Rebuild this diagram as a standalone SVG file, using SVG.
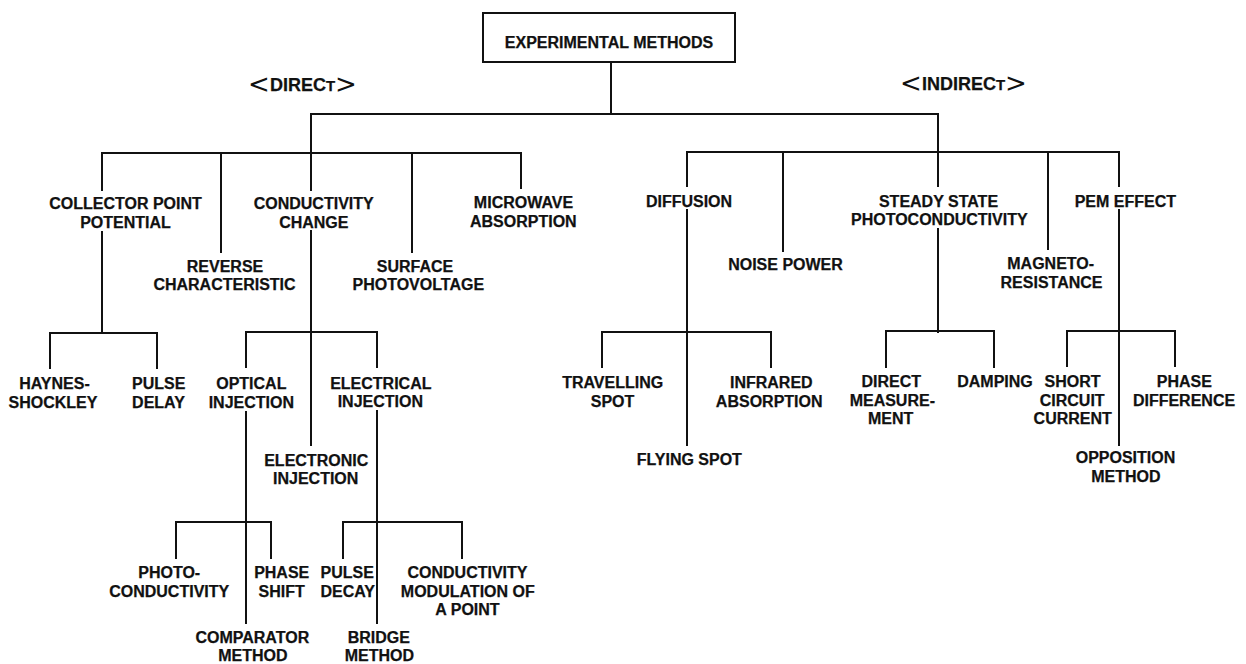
<svg xmlns="http://www.w3.org/2000/svg" width="1246" height="664" viewBox="0 0 1246 664">
  <style>
    .bg { fill: #ffffff; }
    .ln { fill: none; stroke: #111111; stroke-width: 2; stroke-linecap: square; }
    .box { fill: #ffffff; stroke: #111111; stroke-width: 2; }
    .t { font-family: "Liberation Sans", Arial, Helvetica, sans-serif; font-weight: bold; font-size: 16px; text-anchor: middle; fill: #111111; stroke: #111111; stroke-width: 0.25; }
    .h { font-family: "Liberation Sans", Arial, Helvetica, sans-serif; font-weight: bold; font-size: 18px; fill: #111111; stroke: #111111; stroke-width: 0.25; }
    .sc { font-size: 15px; }
    .br { font-family: "DejaVu Sans", sans-serif; font-weight: normal; font-size: 26px; text-anchor: middle; fill: #111111; }
  </style>

  <rect class="bg" x="0" y="0" width="1246" height="664"/>

  <!-- tree connectors -->
  <g id="connectors">
    <!-- root to the two main branches -->
    <path class="ln" d="M611 62 V114"/>
    <path class="ln" d="M311 190 V114 H938 V186"/>
    <!-- direct branch bar -->
    <path class="ln" d="M102 190 V153 H521 V188"/>
    <path class="ln" d="M221 153 V252"/>
    <path class="ln" d="M412 153 V252"/>
    <!-- indirect branch bar -->
    <path class="ln" d="M687 186 V152 H1119 V186"/>
    <path class="ln" d="M783 152 V251"/>
    <path class="ln" d="M1048 152 V249"/>
    <!-- collector point potential -->
    <path class="ln" d="M102 232 V333"/>
    <path class="ln" d="M50 368 V333 H157 V368"/>
    <!-- conductivity change -->
    <path class="ln" d="M311 231 V445"/>
    <path class="ln" d="M246 367 V332 H377 V367"/>
    <!-- optical injection -->
    <path class="ln" d="M246 412 V623"/>
    <path class="ln" d="M176 558 V522 H271 V558"/>
    <!-- electrical injection -->
    <path class="ln" d="M377 411 V623"/>
    <path class="ln" d="M343 558 V522 H462 V558"/>
    <!-- diffusion -->
    <path class="ln" d="M687 210 V445"/>
    <path class="ln" d="M602 367 V332 H771 V367"/>
    <!-- steady state photoconductivity -->
    <path class="ln" d="M938 229 V332"/>
    <path class="ln" d="M886 367 V331 H994 V367"/>
    <!-- PEM effect -->
    <path class="ln" d="M1119 210 V445"/>
    <path class="ln" d="M1067 366 V331 H1175 V366"/>
  </g>

  <g id="root">
    <rect class="box" x="483" y="13" width="252" height="49"/>
    <text class="t" x="609" y="48">EXPERIMENTAL METHODS</text>
  </g>

  <g id="label-direct">
    <text class="br" x="259" y="93">&lt;</text>
    <text class="h" x="270" y="91">DIREC<tspan class="sc">T</tspan></text>
    <text class="br" x="346" y="93">&gt;</text>
  </g>

  <g id="label-indirect">
    <text class="br" x="911" y="91.5">&lt;</text>
    <text class="h" x="922" y="89.5">INDIREC<tspan class="sc">T</tspan></text>
    <text class="br" x="1016" y="91.5">&gt;</text>
  </g>

  <!-- direct methods -->
  <g id="collector-point-potential">
    <text class="t"><tspan x="125.5" y="209">COLLECTOR POINT</tspan><tspan x="125.5" y="228">POTENTIAL</tspan></text>
  </g>
  <g id="reverse-characteristic">
    <text class="t"><tspan x="225" y="271.7">REVERSE</tspan><tspan x="224.5" y="290">CHARACTERISTIC</tspan></text>
  </g>
  <g id="conductivity-change">
    <text class="t"><tspan x="313.7" y="209">CONDUCTIVITY</tspan><tspan x="313.8" y="227.5">CHANGE</tspan></text>
  </g>
  <g id="surface-photovoltage">
    <text class="t"><tspan x="415" y="271.7">SURFACE</tspan><tspan x="418.3" y="290">PHOTOVOLTAGE</tspan></text>
  </g>
  <g id="microwave-absorption">
    <text class="t"><tspan x="523.5" y="208">MICROWAVE</tspan><tspan x="523.3" y="226.5">ABSORPTION</tspan></text>
  </g>
  <g id="haynes-shockley">
    <text class="t"><tspan x="54.5" y="389">HAYNES-</tspan><tspan x="53" y="408">SHOCKLEY</tspan></text>
  </g>
  <g id="pulse-delay">
    <text class="t"><tspan x="158.7" y="389">PULSE</tspan><tspan x="158.5" y="408">DELAY</tspan></text>
  </g>
  <g id="optical-injection">
    <text class="t"><tspan x="251.3" y="389">OPTICAL</tspan><tspan x="251.3" y="408">INJECTION</tspan></text>
  </g>
  <g id="electrical-injection">
    <text class="t"><tspan x="380.8" y="388.5">ELECTRICAL</tspan><tspan x="380.3" y="407">INJECTION</tspan></text>
  </g>
  <g id="electronic-injection">
    <text class="t"><tspan x="316.2" y="465.7">ELECTRONIC</tspan><tspan x="315.7" y="484">INJECTION</tspan></text>
  </g>
  <g id="photo-conductivity">
    <text class="t"><tspan x="169.2" y="578.3">PHOTO-</tspan><tspan x="169.2" y="596.7">CONDUCTIVITY</tspan></text>
  </g>
  <g id="phase-shift">
    <text class="t"><tspan x="281.7" y="578.3">PHASE</tspan><tspan x="281.7" y="596.7">SHIFT</tspan></text>
  </g>
  <g id="comparator-method">
    <text class="t"><tspan x="252.3" y="643">COMPARATOR</tspan><tspan x="252.8" y="661">METHOD</tspan></text>
  </g>
  <g id="pulse-decay">
    <text class="t"><tspan x="347.2" y="578.3">PULSE</tspan><tspan x="347.7" y="596.7">DECAY</tspan></text>
  </g>
  <g id="bridge-method">
    <text class="t"><tspan x="378.8" y="643">BRIDGE</tspan><tspan x="379.3" y="661">METHOD</tspan></text>
  </g>
  <g id="conductivity-modulation">
    <text class="t"><tspan x="467.5" y="577.7">CONDUCTIVITY</tspan><tspan x="467.8" y="596.7">MODULATION OF</tspan><tspan x="467.5" y="615">A POINT</tspan></text>
  </g>

  <!-- indirect methods -->
  <g id="diffusion">
    <text class="t" x="689" y="207.3">DIFFUSION</text>
  </g>
  <g id="noise-power">
    <text class="t" x="785.5" y="270">NOISE POWER</text>
  </g>
  <g id="steady-state-photoconductivity">
    <text class="t"><tspan x="938.5" y="207">STEADY STATE</tspan><tspan x="939.3" y="225.3">PHOTOCONDUCTIVITY</tspan></text>
  </g>
  <g id="magneto-resistance">
    <text class="t"><tspan x="1050.7" y="269.3">MAGNETO-</tspan><tspan x="1051.5" y="288.3">RESISTANCE</tspan></text>
  </g>
  <g id="pem-effect">
    <text class="t" x="1125.3" y="207">PEM EFFECT</text>
  </g>
  <g id="travelling-spot">
    <text class="t"><tspan x="612.7" y="388.3">TRAVELLING</tspan><tspan x="612.5" y="406.7">SPOT</tspan></text>
  </g>
  <g id="flying-spot">
    <text class="t" x="689.3" y="465">FLYING SPOT</text>
  </g>
  <g id="infrared-absorption">
    <text class="t"><tspan x="771.3" y="388.3">INFRARED</tspan><tspan x="769.2" y="406.7">ABSORPTION</tspan></text>
  </g>
  <g id="direct-measurement">
    <text class="t"><tspan x="891.2" y="386.7">DIRECT</tspan><tspan x="892.3" y="405.7">MEASURE-</tspan><tspan x="890.7" y="424.3">MENT</tspan></text>
  </g>
  <g id="damping">
    <text class="t" x="995" y="386.7">DAMPING</text>
  </g>
  <g id="short-circuit-current">
    <text class="t"><tspan x="1072.5" y="386.7">SHORT</tspan><tspan x="1072.2" y="405.7">CIRCUIT</tspan><tspan x="1072.7" y="424.3">CURRENT</tspan></text>
  </g>
  <g id="opposition-method">
    <text class="t"><tspan x="1125.5" y="463.3">OPPOSITION</tspan><tspan x="1125.8" y="482.3">METHOD</tspan></text>
  </g>
  <g id="phase-difference">
    <text class="t"><tspan x="1184.3" y="386.7">PHASE</tspan><tspan x="1184" y="405.7">DIFFERENCE</tspan></text>
  </g>
</svg>
